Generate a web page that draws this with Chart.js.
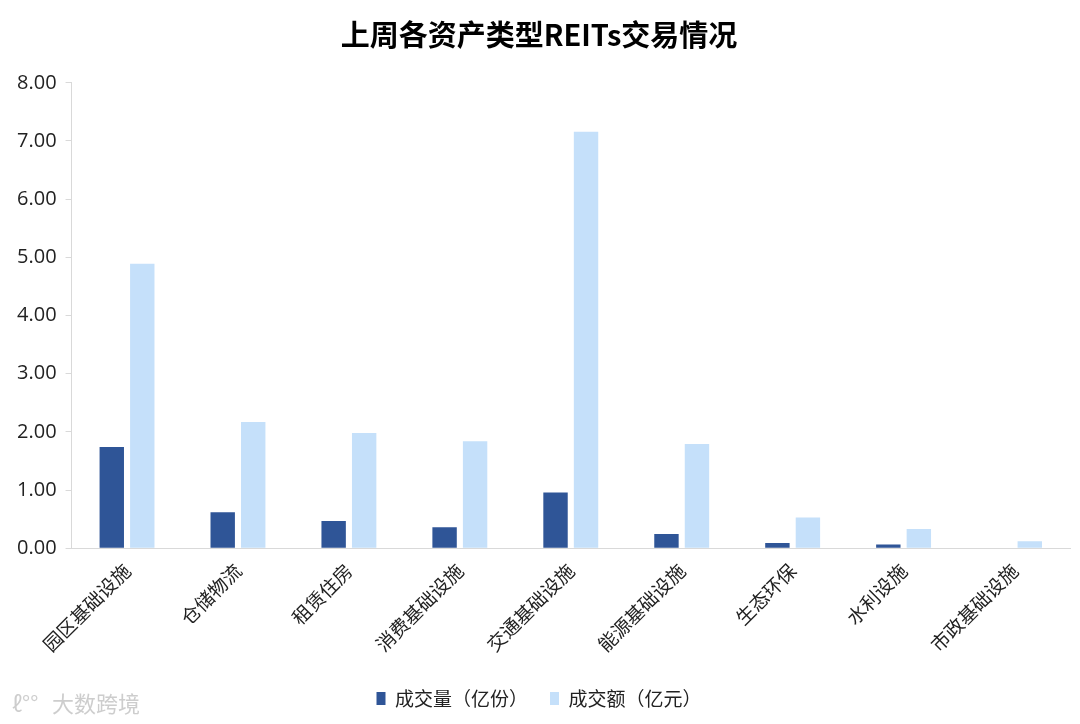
<!DOCTYPE html>
<html>
<head>
<meta charset="utf-8">
<script src="https://cdn.jsdelivr.net/npm/chart.js@4/dist/chart.umd.min.js"></script>
<style>
html,body{margin:0;padding:0;background:#fff;}
#wrap{width:1080px;height:724px;position:relative;}
</style>
</head>
<body>
<div id="wrap"><canvas id="c" width="1080" height="724"></canvas></div>
<script>
const categories = ["园区基础设施","仓储物流","租赁住房","消费基础设施","交通基础设施","能源基础设施","生态环保","水利设施","市政基础设施"];
const volume = [1.74, 0.62, 0.47, 0.36, 0.96, 0.245, 0.09, 0.063, 0];
const amount = [4.89, 2.17, 1.98, 1.84, 7.16, 1.79, 0.53, 0.33, 0.12];
const seriesNames = ["成交量（亿份）","成交额（亿元）"];
const yTicks = [0,1,2,3,4,5,6,7,8];
const titleText = "上周各资产类型REITs交易情况";
const watermark = "大数跨境";

const fontFamily = "'Noto Sans CJK SC', 'Noto Sans', sans-serif";

const watermarkPlugin = {
  id: 'wm',
  afterDraw(chart) {
    const ctx = chart.ctx;
    ctx.save();
    ctx.fillStyle = 'rgba(200,200,200,0.9)';
    ctx.font = "22px " + fontFamily;
    ctx.textBaseline = 'middle';
    ctx.fillText("ℓ°°", 12, 704);
    ctx.fillText(watermark, 52, 704);
    ctx.restore();
  }
};

new Chart(document.getElementById('c'), {
  type: 'bar',
  data: {
    labels: categories,
    datasets: [
      { label: seriesNames[0], data: volume, backgroundColor: '#2F5597', borderWidth: 0 },
      { label: seriesNames[1], data: amount, backgroundColor: '#C5E0FA', borderWidth: 0 }
    ]
  },
  options: {
    responsive: false,
    animation: false,
    devicePixelRatio: 1,
    layout: { padding: { left: 8, right: 10, top: 0, bottom: 6 } },
    datasets: { bar: { categoryPercentage: 0.55, barPercentage: 0.8 } },
    plugins: {
      title: {
        display: true,
        text: titleText,
        color: '#000',
        font: { family: fontFamily, size: 29, weight: 'bold' },
        padding: { top: 18, bottom: 30 }
      },
      legend: {
        position: 'bottom',
        labels: {
          color: '#222',
          font: { family: fontFamily, size: 19 },
          boxWidth: 9,
          boxHeight: 13,
          padding: 22
        }
      },
      tooltip: { enabled: false }
    },
    scales: {
      x: {
        grid: { display: false, drawTicks: false },
        border: { display: true, color: '#D9D9D9', width: 1 },
        ticks: {
          color: '#222',
          font: { family: fontFamily, size: 19 },
          maxRotation: 45, minRotation: 45,
          padding: 11
        }
      },
      y: {
        min: 0, max: 8,
        afterBuildTicks(axis) { axis.ticks = yTicks.map(v => ({ value: v })); },
        grid: { drawOnChartArea: false, drawTicks: true, tickLength: 6, color: '#D9D9D9' },
        border: { display: true, color: '#D9D9D9', width: 1 },
        ticks: {
          color: '#222',
          font: { family: "'Open Sans', sans-serif", size: 20 },
          padding: 9,
          callback: v => Number(v).toFixed(2)
        }
      }
    }
  },
  plugins: [watermarkPlugin]
});
</script>
</body>
</html>
